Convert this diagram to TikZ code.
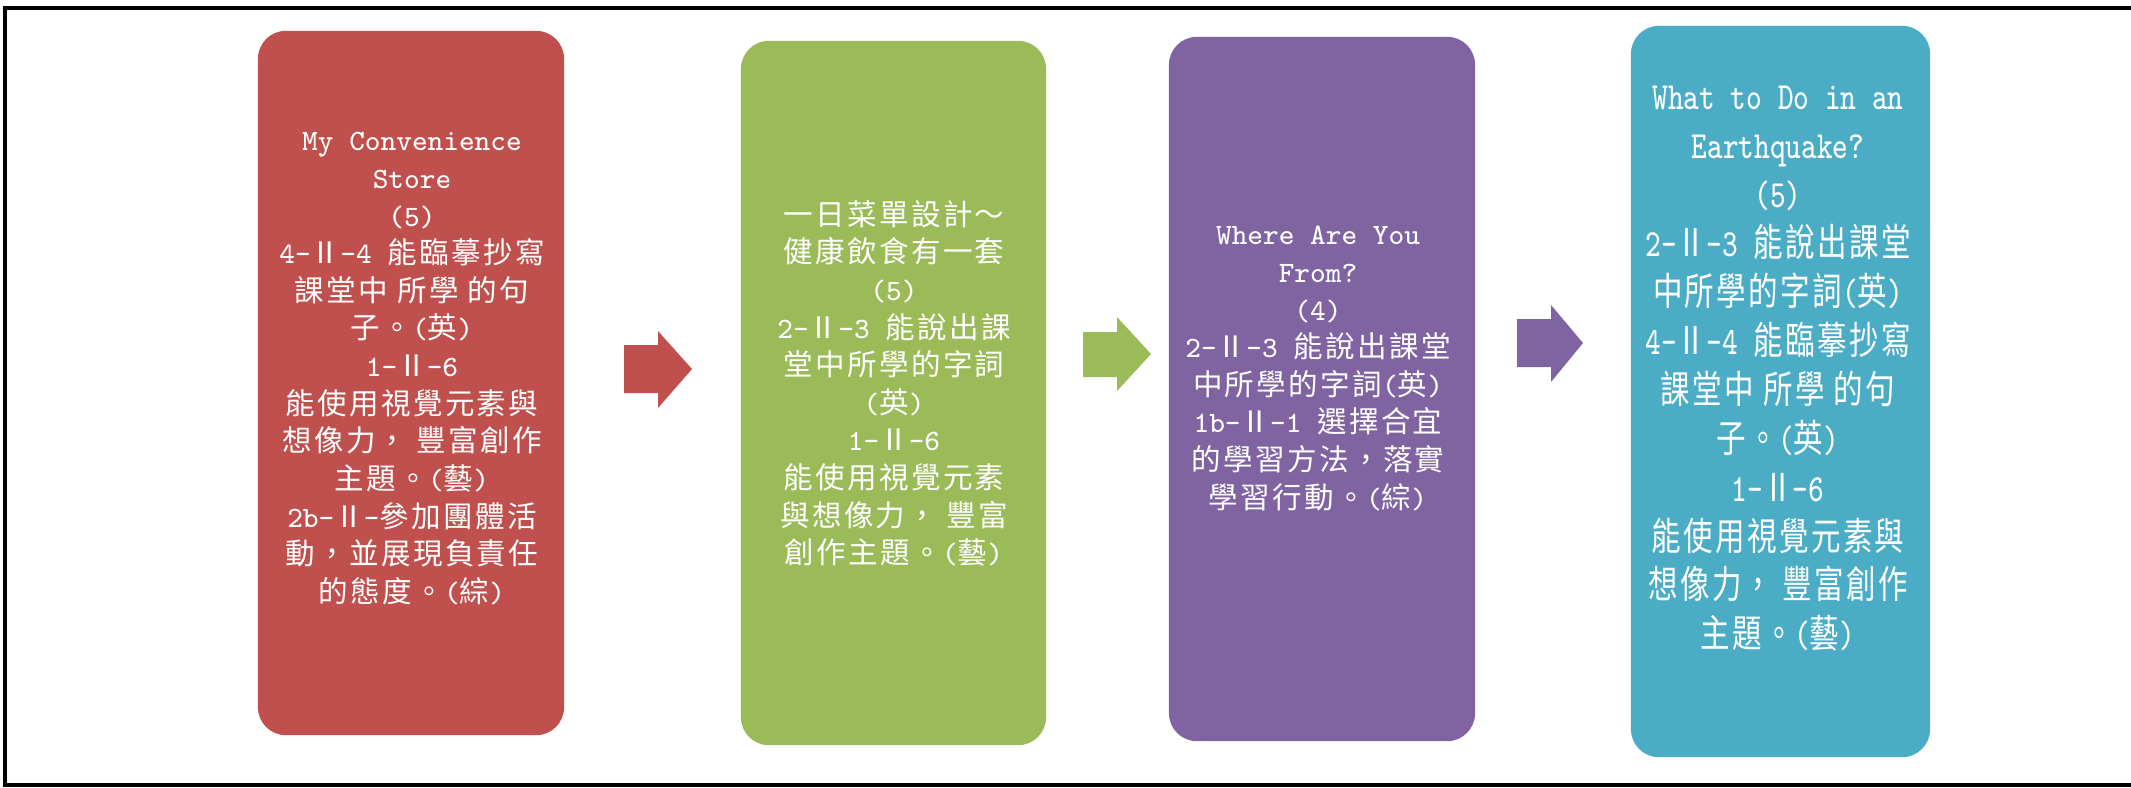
\documentclass[tikz,border=0pt]{standalone}
\usepackage{fontspec}
\newfontfamily\cjk{Noto Sans CJK TC}[LetterSpace=8]
\newcommand\C[1]{{\cjk #1}}
\definecolor{cred}{HTML}{C0504D}
\definecolor{cgreen}{HTML}{9BBB59}
\definecolor{cpurple}{HTML}{8064A2}
\definecolor{cblue}{HTML}{4BACC6}
\begin{document}
\begin{tikzpicture}[x=0.01cm,y=-0.01cm,
  card/.style={rectangle, rounded corners=0.28cm, inner sep=0pt, draw=none},
  cardtext/.style={text=white, inner sep=0pt, font=\ttfamily\fontsize{8.4}{10.7}\selectfont},
  blockarrow/.style={draw=none}]
\useasboundingbox (0,0) rectangle (2131,787);
% frame
\draw[line width=0.04cm] (2131,8) -- (5,8) -- (5,785) -- (2131,785);
% cards
\node[card, fill=cred,    minimum width=3.06cm, minimum height=7.04cm] (red)    at (411,383) {};
\node[card, fill=cgreen,  minimum width=3.05cm, minimum height=7.04cm] (green)  at (893.5,393) {};
\node[card, fill=cpurple, minimum width=3.06cm, minimum height=7.04cm] (purple) at (1322,389) {};
\node[card, fill=cblue,   minimum width=2.99cm, minimum height=7.31cm] (blue)   at (1780.5,391.5) {};
% texts
\node[cardtext] (redtext) at (412,369) {\begin{tabular}{@{}c@{}}
My Convenience\\
Store\\
(5)\\
4-\C{Ⅱ}-4 \C{能臨摹抄寫}\\
\C{課堂中 所學 的句}\\
\C{子。}(\C{英})\\
1-\C{Ⅱ}-6\\
\C{能使用視覺元素與}\\
\C{想像力， 豐富創作}\\
\C{主題。}(\C{藝})\\
2b-\C{Ⅱ}-\C{參加團體活}\\
\C{動，並展現負責任}\\
\C{的態度。}(\C{綜})
\end{tabular}};
\node[cardtext] (greentext) at (894,387) {\begin{tabular}{@{}c@{}}
\C{一日菜單設計～}\\
\C{健康飲食有一套}\\
(5)\\
2-\C{Ⅱ}-3 \C{能說出課}\\
\C{堂中所學的字詞}\\
(\C{英})\\
1-\C{Ⅱ}-6\\
\C{能使用視覺元素}\\
\C{與想像力， 豐富}\\
\C{創作主題。}(\C{藝})
\end{tabular}};
\node[cardtext] (purpletext) at (1318,369) {\begin{tabular}{@{}c@{}}
Where Are You\\
From?\\
(4)\\
2-\C{Ⅱ}-3 \C{能說出課堂}\\
\C{中所學的字詞}(\C{英})\\
1b-\C{Ⅱ}-1 \C{選擇合宜}\\
\C{的學習方法，落實}\\
\C{學習行動。}(\C{綜})
\end{tabular}};
\node[cardtext] (bluetext) at (1778,369) {\scalebox{1}[1.3]{\begin{tabular}{@{}c@{}}
What to Do in an\\
Earthquake?\\
(5)\\
2-\C{Ⅱ}-3 \C{能說出課堂}\\
\C{中所學的字詞}(\C{英})\\
4-\C{Ⅱ}-4 \C{能臨摹抄寫}\\
\C{課堂中 所學 的句}\\
\C{子。}(\C{英})\\
1-\C{Ⅱ}-6\\
\C{能使用視覺元素與}\\
\C{想像力， 豐富創作}\\
\C{主題。}(\C{藝})
\end{tabular}}};
% block arrows
\fill[blockarrow, cred] (624,345) -- (658,345) -- (658,331) -- (692,369) -- (658,408) -- (658,393) -- (624,393) -- cycle;
\fill[blockarrow, cgreen] (1083,332) -- (1117,332) -- (1117,317) -- (1151,354) -- (1117,391) -- (1117,377) -- (1083,377) -- cycle;
\fill[blockarrow, cpurple] (1517,319) -- (1551,319) -- (1551,305) -- (1583,343) -- (1551,382) -- (1551,367) -- (1517,367) -- cycle;
\end{tikzpicture}
\end{document}
